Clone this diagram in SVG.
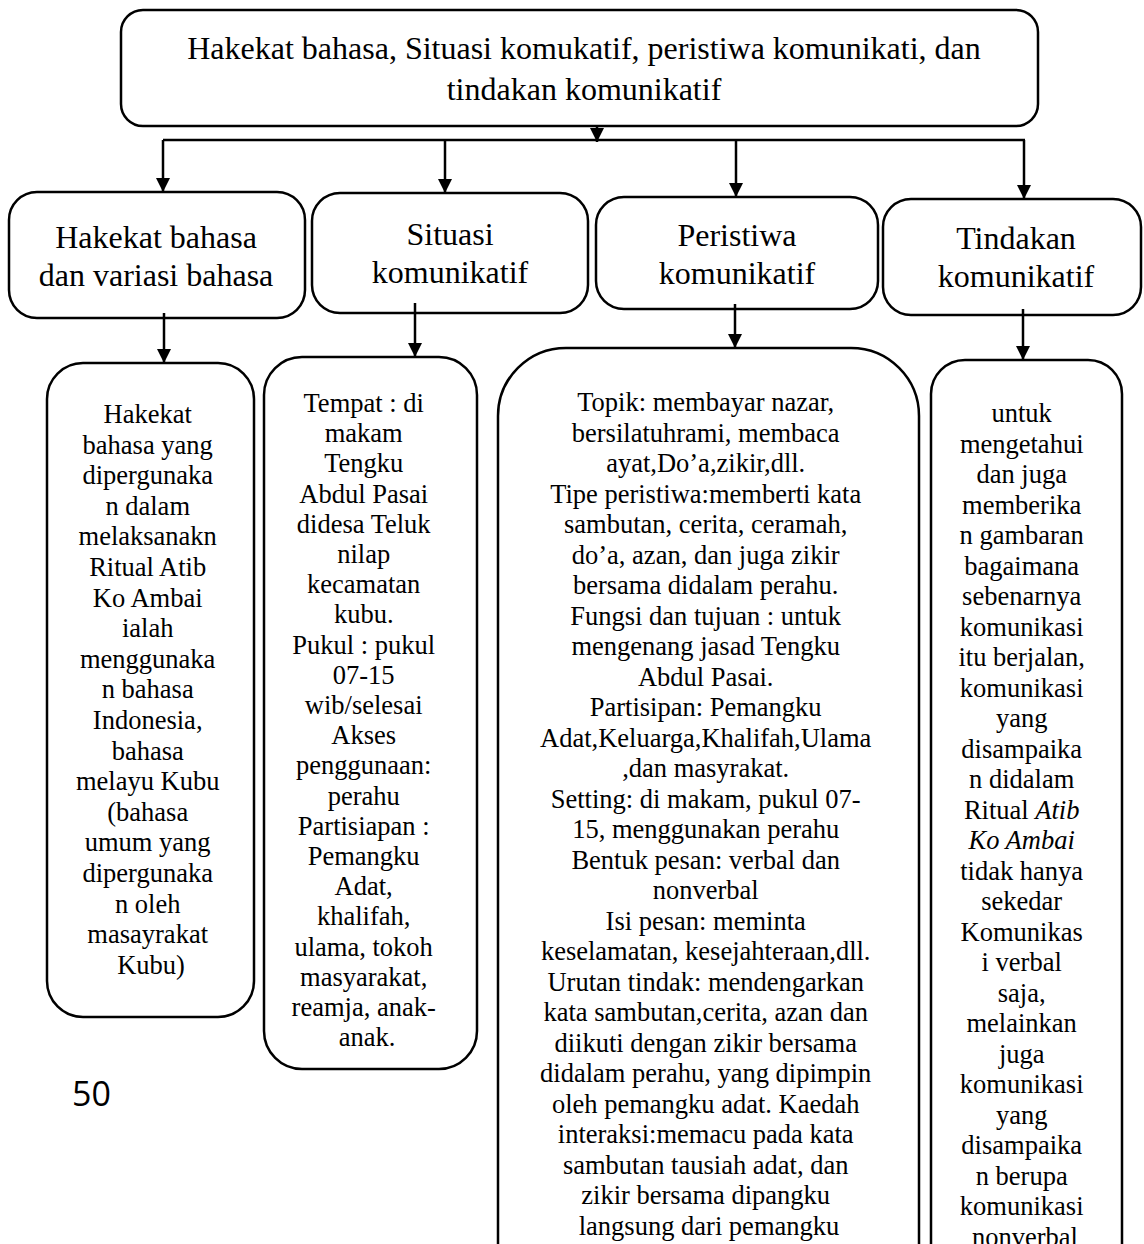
<svg xmlns="http://www.w3.org/2000/svg" width="1144" height="1244" viewBox="0 0 1144 1244">
<style>
.box{fill:#fff;stroke:#000;stroke-width:2.5}
.t{font-family:"Liberation Serif","Times New Roman",serif;fill:#000;text-anchor:middle}
.h{font-size:32px}
.s{font-size:26.5px}
.conn{stroke:#000;stroke-width:2.5;fill:none}
.pg{font-family:"Open Sans","Noto Sans",sans-serif;font-size:34px;fill:#000}
</style>
<defs>
<marker id="arr" viewBox="0 0 10 10" refX="10" refY="5" markerUnits="userSpaceOnUse" markerWidth="15" markerHeight="14" orient="auto">
<path d="M0,0 L10,5 L0,10 z" fill="#000"/>
</marker>
</defs>
<rect width="1144" height="1244" fill="#fff"/>

<g id="top">
<rect class="box" x="121" y="10" width="917" height="116" rx="22"/>
<text class="t h"><tspan x="584" y="59">Hakekat bahasa, Situasi komukatif, peristiwa komunikati, dan</tspan><tspan x="584" y="100">tindakan komunikatif</tspan></text>
</g>

<g id="hakekat">
<rect class="box" x="9" y="192" width="296" height="126" rx="28"/>
<text class="t h"><tspan x="156" y="248">Hakekat bahasa</tspan><tspan x="156" y="286">dan variasi bahasa</tspan></text>
</g>
<g id="situasi">
<rect class="box" x="312" y="193" width="276" height="120" rx="28"/>
<text class="t h"><tspan x="450" y="245">Situasi</tspan><tspan x="450" y="283">komunikatif</tspan></text>
</g>
<g id="peristiwa">
<rect class="box" x="596" y="197" width="282" height="112" rx="28"/>
<text class="t h"><tspan x="737" y="246">Peristiwa</tspan><tspan x="737" y="284">komunikatif</tspan></text>
</g>
<g id="tindakan">
<rect class="box" x="883" y="199" width="258" height="116" rx="28"/>
<text class="t h"><tspan x="1016" y="249">Tindakan</tspan><tspan x="1016" y="287">komunikatif</tspan></text>
</g>

<g id="hakekat-detail">
<rect class="box" x="47" y="363" width="207" height="654" rx="36"/>
<text class="t s">
<tspan x="151" y="423">Hakekat</tspan>
<tspan x="151" y="453.6">bahasa yang</tspan>
<tspan x="151" y="484.2">dipergunaka</tspan>
<tspan x="151" y="514.8">n dalam</tspan>
<tspan x="151" y="545.4">melaksanakn</tspan>
<tspan x="151" y="576">Ritual Atib</tspan>
<tspan x="151" y="606.6">Ko Ambai</tspan>
<tspan x="151" y="637.2">ialah</tspan>
<tspan x="151" y="667.8">menggunaka</tspan>
<tspan x="151" y="698.4">n bahasa</tspan>
<tspan x="151" y="729">Indonesia,</tspan>
<tspan x="151" y="759.6">bahasa</tspan>
<tspan x="151" y="790.2">melayu Kubu</tspan>
<tspan x="151" y="820.8">(bahasa</tspan>
<tspan x="151" y="851.4">umum yang</tspan>
<tspan x="151" y="882">dipergunaka</tspan>
<tspan x="151" y="912.6">n oleh</tspan>
<tspan x="151" y="943.2">masayrakat</tspan>
<tspan x="151" y="973.8">Kubu)</tspan>
</text>
</g>

<g id="situasi-detail">
<rect class="box" x="264" y="357" width="213" height="712" rx="38"/>
<text class="t s">
<tspan x="367" y="412">Tempat : di</tspan>
<tspan x="367" y="442.2">makam</tspan>
<tspan x="367" y="472.4">Tengku</tspan>
<tspan x="367" y="502.6">Abdul Pasai</tspan>
<tspan x="367" y="532.8">didesa Teluk</tspan>
<tspan x="367" y="563">nilap</tspan>
<tspan x="367" y="593.2">kecamatan</tspan>
<tspan x="367" y="623.4">kubu.</tspan>
<tspan x="367" y="653.6">Pukul : pukul</tspan>
<tspan x="367" y="683.8">07-15</tspan>
<tspan x="367" y="714">wib/selesai</tspan>
<tspan x="367" y="744.2">Akses</tspan>
<tspan x="367" y="774.4">penggunaan:</tspan>
<tspan x="367" y="804.6">perahu</tspan>
<tspan x="367" y="834.8">Partisiapan :</tspan>
<tspan x="367" y="865">Pemangku</tspan>
<tspan x="367" y="895.2">Adat,</tspan>
<tspan x="367" y="925.4">khalifah,</tspan>
<tspan x="367" y="955.6">ulama, tokoh</tspan>
<tspan x="367" y="985.8">masyarakat,</tspan>
<tspan x="367" y="1016">reamja, anak-</tspan>
<tspan x="367" y="1046.2">anak.</tspan>
</text>
</g>

<g id="peristiwa-detail">
<rect class="box" x="498" y="348" width="421" height="1000" rx="68"/>
<text class="t s">
<tspan x="709" y="411">Topik: membayar nazar,</tspan>
<tspan x="709" y="441.5">bersilatuhrami, membaca</tspan>
<tspan x="709" y="472">ayat,Do’a,zikir,dll.</tspan>
<tspan x="709" y="502.5">Tipe peristiwa:memberti kata</tspan>
<tspan x="709" y="533">sambutan, cerita, ceramah,</tspan>
<tspan x="709" y="563.5">do’a, azan, dan juga zikir</tspan>
<tspan x="709" y="594">bersama didalam perahu.</tspan>
<tspan x="709" y="624.5">Fungsi dan tujuan : untuk</tspan>
<tspan x="709" y="655">mengenang jasad Tengku</tspan>
<tspan x="709" y="685.5">Abdul Pasai.</tspan>
<tspan x="709" y="716">Partisipan: Pemangku</tspan>
<tspan x="709" y="746.5">Adat,Keluarga,Khalifah,Ulama</tspan>
<tspan x="709" y="777">,dan masyrakat.</tspan>
<tspan x="709" y="807.5">Setting: di makam, pukul 07-</tspan>
<tspan x="709" y="838">15, menggunakan perahu</tspan>
<tspan x="709" y="868.5">Bentuk pesan: verbal dan</tspan>
<tspan x="709" y="899">nonverbal</tspan>
<tspan x="709" y="929.5">Isi pesan: meminta</tspan>
<tspan x="709" y="960">keselamatan, kesejahteraan,dll.</tspan>
<tspan x="709" y="990.5">Urutan tindak: mendengarkan</tspan>
<tspan x="709" y="1021">kata sambutan,cerita, azan dan</tspan>
<tspan x="709" y="1051.5">diikuti dengan zikir bersama</tspan>
<tspan x="709" y="1082">didalam perahu, yang dipimpin</tspan>
<tspan x="709" y="1112.5">oleh pemangku adat. Kaedah</tspan>
<tspan x="709" y="1143">interaksi:memacu pada kata</tspan>
<tspan x="709" y="1173.5">sambutan tausiah adat, dan</tspan>
<tspan x="709" y="1204">zikir bersama dipangku</tspan>
<tspan x="709" y="1234.5">langsung dari pemangku</tspan>
</text>
</g>

<g id="tindakan-detail">
<rect class="box" x="931" y="360" width="191" height="1000" rx="34"/>
<text class="t s">
<tspan x="1025" y="422">untuk</tspan>
<tspan x="1025" y="452.5">mengetahui</tspan>
<tspan x="1025" y="483">dan juga</tspan>
<tspan x="1025" y="513.5">memberika</tspan>
<tspan x="1025" y="544">n gambaran</tspan>
<tspan x="1025" y="574.5">bagaimana</tspan>
<tspan x="1025" y="605">sebenarnya</tspan>
<tspan x="1025" y="635.5">komunikasi</tspan>
<tspan x="1025" y="666">itu berjalan,</tspan>
<tspan x="1025" y="696.5">komunikasi</tspan>
<tspan x="1025" y="727">yang</tspan>
<tspan x="1025" y="757.5">disampaika</tspan>
<tspan x="1025" y="788">n didalam</tspan>
<tspan x="1025" y="818.5">Ritual <tspan font-style="italic">Atib</tspan></tspan>
<tspan x="1025" y="849" font-style="italic">Ko Ambai</tspan>
<tspan x="1025" y="879.5">tidak hanya</tspan>
<tspan x="1025" y="910">sekedar</tspan>
<tspan x="1025" y="940.5">Komunikas</tspan>
<tspan x="1025" y="971">i verbal</tspan>
<tspan x="1025" y="1001.5">saja,</tspan>
<tspan x="1025" y="1032">melainkan</tspan>
<tspan x="1025" y="1062.5">juga</tspan>
<tspan x="1025" y="1093">komunikasi</tspan>
<tspan x="1025" y="1123.5">yang</tspan>
<tspan x="1025" y="1154">disampaika</tspan>
<tspan x="1025" y="1184.5">n berupa</tspan>
<tspan x="1025" y="1215">komunikasi</tspan>
<tspan x="1025" y="1245.5">nonverbal</tspan>
</text>
</g>

<g id="connectors">
<path class="conn" d="M597,126 V142" marker-end="url(#arr)"/>
<path class="conn" d="M163,140 H1025"/>
<path class="conn" d="M163,140 V192" marker-end="url(#arr)"/>
<path class="conn" d="M445,140 V193" marker-end="url(#arr)"/>
<path class="conn" d="M736,140 V197" marker-end="url(#arr)"/>
<path class="conn" d="M1024,140 V199" marker-end="url(#arr)"/>
<path class="conn" d="M164,313 V363" marker-end="url(#arr)"/>
<path class="conn" d="M415,303 V357" marker-end="url(#arr)"/>
<path class="conn" d="M735,304 V348" marker-end="url(#arr)"/>
<path class="conn" d="M1023,309 V360" marker-end="url(#arr)"/>
</g>

<text class="pg" x="72" y="1106">50</text>
</svg>
